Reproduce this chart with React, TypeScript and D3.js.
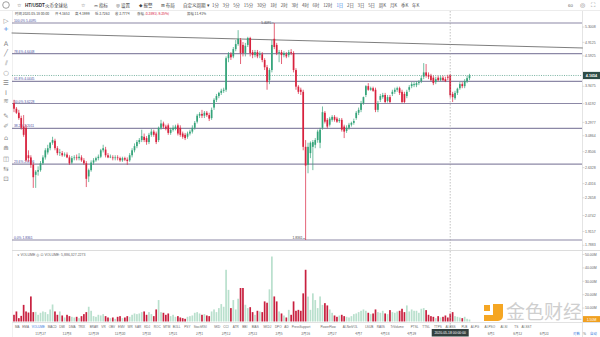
import React from 'react';
import * as d3 from 'd3';

// ---------- data ----------
const startDate = '2019-11-16';
// [open, high, low, close]
const ohlc: [number, number, number, number][] = [
  [3.63,3.69,3.47,3.53],[3.53,3.56,3.44,3.46],[3.46,3.51,3.34,3.37],[3.37,3.41,3.18,3.21],[3.23,3.42,3.07,3.10],
  [3.21,3.26,2.71,2.73],[2.80,2.87,2.71,2.76],[2.77,2.80,2.63,2.67],[2.67,2.70,2.38,2.51],[2.54,2.60,2.38,2.58],
  [2.58,2.65,2.53,2.60],[2.60,2.72,2.58,2.69],[2.69,2.80,2.67,2.77],[2.77,2.90,2.74,2.87],[2.84,2.95,2.81,2.90],
  [2.90,2.99,2.87,2.98],[2.98,3.07,2.95,3.02],[3.01,3.04,2.87,2.90],[2.90,2.93,2.80,2.83],[2.83,2.89,2.79,2.84],
  [2.83,2.86,2.78,2.80],[2.80,2.84,2.78,2.81],[2.81,2.84,2.76,2.77],[2.77,2.80,2.67,2.69],[2.70,2.79,2.68,2.76],
  [2.76,2.80,2.73,2.77],[2.77,2.81,2.73,2.76],[2.76,2.83,2.73,2.78],[2.77,2.80,2.71,2.73],[2.73,2.76,2.67,2.69],
  [2.69,2.72,2.39,2.49],[2.52,2.62,2.45,2.60],[2.60,2.73,2.58,2.70],[2.70,2.76,2.67,2.73],[2.73,2.78,2.71,2.76],
  [2.76,2.81,2.73,2.78],[2.78,2.89,2.76,2.87],[2.87,2.95,2.84,2.90],[2.88,2.92,2.77,2.80],[2.80,2.83,2.76,2.77],
  [2.77,2.81,2.76,2.78],[2.77,2.80,2.73,2.76],[2.76,2.80,2.73,2.77],[2.77,2.80,2.73,2.76],[2.76,2.78,2.71,2.73],
  [2.73,2.78,2.71,2.76],[2.76,2.78,2.72,2.74],[2.74,2.77,2.67,2.72],[2.73,2.83,2.71,2.80],[2.80,2.90,2.77,2.87],
  [2.87,2.97,2.84,2.93],[2.93,3.02,2.90,2.99],[2.99,3.05,2.96,3.02],[3.02,3.18,2.99,3.08],[3.07,3.12,2.99,3.02],
  [3.05,3.08,2.95,2.99],[2.99,3.13,2.96,3.10],[3.10,3.19,3.07,3.15],[3.15,3.18,3.07,3.10],[3.12,3.15,2.96,2.99],
  [3.02,3.23,2.99,3.21],[3.21,3.34,3.18,3.28],[3.28,3.31,3.20,3.23],[3.23,3.26,3.17,3.20],[3.25,3.28,3.10,3.13],
  [3.13,3.21,3.10,3.18],[3.18,3.25,3.15,3.21],[3.20,3.26,3.17,3.23],[3.25,3.28,3.09,3.12],[3.21,3.25,3.07,3.10],
  [3.12,3.15,3.04,3.07],[3.10,3.13,3.02,3.05],[3.07,3.15,3.04,3.12],[3.12,3.18,3.09,3.15],[3.15,3.25,3.12,3.21],
  [3.21,3.32,3.18,3.29],[3.31,3.44,3.28,3.41],[3.41,3.47,3.37,3.44],[3.44,3.51,3.37,3.41],[3.41,3.49,3.37,3.46],
  [3.46,3.49,3.39,3.42],[3.42,3.46,3.32,3.36],[3.37,3.55,3.34,3.51],[3.55,3.72,3.51,3.69],[3.69,3.80,3.65,3.76],
  [3.76,3.84,3.72,3.82],[3.82,3.90,3.78,3.86],[3.86,3.92,3.82,3.88],[3.88,4.58,3.84,4.54],[4.54,4.68,4.45,4.63],
  [4.63,4.68,4.50,4.56],[4.58,4.80,4.54,4.75],[4.75,4.97,4.70,4.87],[4.87,5.22,4.83,5.00],[4.97,5.02,4.41,4.66],
  [4.85,4.92,4.58,4.66],[4.66,4.90,4.58,4.83],[4.85,5.05,4.80,5.02],[5.02,5.05,4.58,4.66],[4.68,4.73,4.54,4.61],
  [4.61,4.73,4.56,4.68],[4.68,4.73,4.54,4.58],[4.61,4.70,4.54,4.63],[4.63,4.68,4.45,4.50],[4.50,4.54,4.28,4.34],
  [4.34,4.39,3.88,4.03],[4.07,4.32,3.99,4.28],[4.28,4.97,4.23,4.85],[5.00,5.4095,4.75,4.80],[4.85,4.90,4.61,4.66],
  [4.66,4.73,4.45,4.68],[4.68,4.73,4.41,4.61],[4.61,4.70,4.56,4.66],[4.63,4.68,4.54,4.58],[4.61,4.73,4.56,4.68],
  [4.68,4.75,4.61,4.66],[4.66,4.70,4.23,4.28],[4.28,4.32,3.88,3.94],[3.94,3.97,3.80,3.84],[3.88,3.92,3.78,3.84],
  [3.84,3.88,2.87,2.92],[2.92,3.02,1.8361,2.66],[2.67,2.98,2.56,2.92],[2.83,3.00,2.76,2.98],[2.92,3.02,2.60,2.99],
  [2.95,3.05,2.90,3.02],[3.02,3.18,2.98,3.15],[2.98,3.21,2.90,3.18],[3.21,3.57,3.18,3.47],[3.46,3.49,3.28,3.31],
  [3.34,3.37,3.20,3.23],[3.26,3.39,3.23,3.36],[3.34,3.42,3.31,3.39],[3.39,3.42,3.31,3.34],[3.36,3.39,3.29,3.31],
  [3.32,3.37,3.29,3.34],[3.34,3.37,3.15,3.18],[3.23,3.26,3.05,3.15],[3.16,3.25,3.13,3.21],[3.21,3.29,3.18,3.26],
  [3.26,3.31,3.23,3.29],[3.29,3.36,3.26,3.32],[3.37,3.49,3.34,3.46],[3.46,3.55,3.42,3.51],[3.51,3.67,3.47,3.63],
  [3.63,3.75,3.60,3.74],[3.78,3.97,3.74,3.95],[3.95,4.01,3.86,3.88],[3.88,3.94,3.86,3.91],[3.91,3.94,3.84,3.86],
  [3.88,3.92,3.47,3.51],[3.51,3.67,3.47,3.63],[3.69,3.80,3.65,3.76],[3.74,3.82,3.71,3.78],[3.78,3.82,3.63,3.65],
  [3.67,3.78,3.64,3.74],[3.74,3.78,3.63,3.65],[3.80,3.88,3.76,3.84],[3.84,3.92,3.80,3.88],[3.88,3.94,3.84,3.91],
  [3.91,3.94,3.78,3.82],[3.84,3.88,3.63,3.65],[3.80,3.84,3.63,3.65],[3.76,3.88,3.72,3.84],[3.88,3.97,3.84,3.93],
  [3.95,4.03,3.91,3.99],[3.97,4.03,3.93,3.99],[3.97,4.05,3.93,4.01],[4.01,4.07,3.97,4.03],[4.05,4.16,4.01,4.11],
  [4.14,4.43,4.09,4.23],[4.23,4.41,4.12,4.16],[4.18,4.23,4.09,4.14],[4.16,4.20,4.05,4.07],[4.12,4.16,3.97,4.01],
  [4.03,4.14,3.99,4.09],[4.12,4.16,4.05,4.07],[4.07,4.16,4.05,4.12],[4.12,4.16,4.05,4.07],[4.09,4.14,4.03,4.05],
  [4.14,4.18,4.07,4.12],[4.1653,4.1999,3.7263,3.7774],[3.80,3.84,3.65,3.74],[3.72,3.86,3.69,3.82],[3.82,3.92,3.78,3.90],
  [3.91,4.03,3.88,3.99],[3.99,4.03,3.91,3.95],[3.95,4.09,3.91,4.05],[4.05,4.16,4.01,4.11],[4.11,4.20,4.07,4.1654],
];

// volume, millions
const volumes: number[] = [
  5.0,7.5,2.5,4.2,12.4,7.5,6.7,18.7,7.0,7.2,
  5.0,6.5,7.5,7.0,5.5,9.0,12.7,7.5,5.0,7.5,
  4.5,3.0,5.0,4.0,3.5,3.0,3.5,2.5,4.0,5.5,
  7.0,11.0,8.0,4.0,3.5,5.0,4.5,5.5,4.0,3.0,
  2.5,3.0,2.0,3.5,4.0,2.5,3.0,4.0,3.5,5.0,
  6.0,5.5,6.0,7.0,7.5,5.0,7.0,5.5,4.0,9.0,
  16.0,7.0,6.5,5.0,6.0,4.0,5.0,3.5,4.0,3.0,
  2.5,2.0,3.5,4.0,4.5,6.5,7.0,6.0,5.0,5.5,
  4.5,4.0,7.5,9.0,7.0,10.0,13.0,11.0,38.6,23.6,
  10.0,16.0,9.0,17.0,25.0,25.0,12.5,10.0,10.7,7.0,
  5.0,8.0,7.5,7.0,15.0,14.0,24.0,48.5,18.7,15.0,
  7.5,6.0,4.5,3.0,8.7,5.0,15.0,8.0,8.7,8.0,
  21.0,38.6,18.6,8.7,21.0,16.0,10.0,18.7,12.4,13.7,
  12.0,9.0,6.5,4.5,3.5,4.5,5.0,4.0,3.5,3.0,
  4.0,5.5,6.0,7.0,8.0,9.0,8.0,6.5,5.5,6.0,
  9.0,7.0,6.5,8.0,6.0,5.5,8.5,7.0,6.5,7.5,
  8.0,9.5,7.0,12.0,7.5,9.0,8.0,8.0,6.5,9.5,
  10.0,8.5,5.0,4.0,3.5,2.5,4.0,3.0,3.5,4.5,
  3.0,5.89,7.0,4.0,3.5,3.0,2.5,3.5,2.0,1.5,
];

const fibHigh = 5.4095;
const fibLow = 1.8361;
const fibRatios = [1, 0.786, 0.618, 0.5, 0.382, 0.236, 0];
const priceTicks = [5.3008, 4.9125, 4.5925, 3.9475, 3.6192, 3.2977, 3.0864, 2.8506, 2.6328, 2.4316, 2.2658, 2.0742, 1.9157, 1.7883];
const volumeTicks = [10, 20, 30, 40, 50];
const dateTicks = ['2019-11-27','2019-12-08','2019-12-19','2019-12-30','2020-01-10','2020-01-21','2020-02-01','2020-02-12','2020-02-23','2020-03-05','2020-03-16','2020-03-27','2020-04-07','2020-04-18','2020-04-29','2020-05-21','2020-06-01','2020-06-12','2020-06-23'];
const trendPoints: [string, number][] = [['2019-11-15', 5.147], ['2020-07-09', 4.777]];
const crosshairIndex = 181;
const crosshairLabel = '2020-05-18 00:00:00';
const infoItems: [string, string][] = [
  ['时间', '2020-05-18 00:00'], ['开', '4.1653'], ['高', '4.1999'], ['低', '3.7263'], ['收', '3.7774'],
];
const changeText = '-0.3891(-9.35%)';
const ampText = '11.41%';
const periods = ['1分','3分','5分','15分','30分','1时','2时','3时','4时','6时','12时','1日','2日','3日','5日','周K','月K','季K','年K'];
const indicators = ['MA','EMA','VOLUME','MACD','DMI','DMA','TRIX','BRAR','VR','OBV','EMV','WR','SAR','KDJ','ROC','MTM','BOLL','PSY','StochRSI','SKD','CCI','ATR','BBI','BIAS','SKDJ','DPO','AD','PressSupport','PowerFlow','AI-NetVOL','LSUB','RAIIS','TrVolume','PTSL','TTSL','TTPS','AI-BSS','PLB','AI-PG','AI-PSO','AI-SI','TS','AI-SST'];
const leftIcons = ['▷','+','A','╱','⫽','○','☰','Ⅰ','≋','✎','✐','⌂','⋒','◫','⇆','⊡'];

// ---------- styles ----------
const UP = '#35a47a';
const DOWN = '#d8213d';
const VUP = '#b9e0cd';
const VDOWN = '#c8203f';
const FIB = '#8c88a6';
const FIBTXT = '#4d4fa0';
const CJK = "'Noto Sans CJK SC','Noto Sans',sans-serif";
const SANS = "'Liberation Sans','DejaVu Sans',sans-serif";
const SYM = "'DejaVu Sans',sans-serif";

export default function App() {
  const parse = d3.timeParse('%Y-%m-%d');
  const d0 = parse(startDate) as Date;
  const dates = ohlc.map((_, i) => d3.timeDay.offset(d0, i));
  const PL = 12, PR = 582;
  const x = d3.scaleTime().domain([dates[0], dates[dates.length - 1]]).range([14, 469.5]);
  const y = d3.scaleLog().domain([fibLow, fibHigh]).range([240, 23]);
  const yv = d3.scaleLinear().domain([0, 50]).range([321.5, 254.5]);
  const bw = 1.7;

  const last = ohlc[ohlc.length - 1][3];
  const lastVol = volumes[volumes.length - 1];
  const hiIdx = d3.maxIndex(ohlc, (d) => d[1]);
  const loIdx = d3.minIndex(ohlc, (d) => d[2]);
  const cx = x(dates[crosshairIndex]);

  // toolbar periods layout
  let px = 212;
  const periodPos = periods.map((p) => {
    const w = Array.from(p).reduce((s, c) => s + (/[0-9]/.test(c) ? 2.6 : /[A-Z]/.test(c) ? 3.1 : 4.6), 0);
    const pos = px;
    px += w + 3.4;
    return pos;
  });
  // indicator row layout
  let ix = 15;
  const indPos = indicators.map((n) => {
    const pos = ix;
    ix += n.length * 2.15 + 3;
    return pos;
  });

  const fmtDate = d3.timeFormat('%-m月%-d');
  const tp = trendPoints.map(([d, v]) => [x(parse(d) as Date), y(v)]);

  return (
    <svg width={600} height={337} viewBox="0 0 600 337" style={{ position: 'absolute', left: 0, top: 0, background: '#fff' }}>
      <rect x={0} y={0} width={600} height={337} fill="#fff" />

      {/* top toolbar */}
      <line x1={0} x2={600} y1={10.5} y2={10.5} stroke="#ececec" />
      <circle cx={6} cy={5} r={3.3} fill="none" stroke="#888" strokeWidth={0.8} />
      <text x={17} y={7} fontSize={5} fill="#555" fontFamily={SYM}>☆</text>
      <text x={25} y={6.8} fontSize={4.6} fill="#333" fontFamily={SANS} fontWeight="bold">HT/USDT</text>
      <text x={45} y={6.8} fontSize={4.5} fill="#333" fontFamily={CJK}>火币全球站</text>
      <text x={81} y={7} fontSize={5} fill="#666" fontFamily={SYM}>☆</text>
      <text x={94} y={6.8} fontSize={4.5} fill="#444" fontFamily={CJK}><tspan fontFamily={SYM}>⫘</tspan> 指标</text>
      <text x={116} y={6.8} fontSize={4.5} fill="#444" fontFamily={CJK}><tspan fontFamily={SYM}>◎</tspan> 设置</text>
      <text x={139} y={6.8} fontSize={4.5} fill="#444" fontFamily={CJK}><tspan fontFamily={SYM}>◆</tspan> 报警</text>
      <text x={161} y={6.8} fontSize={4.5} fill="#444" fontFamily={CJK}><tspan fontFamily={SYM}>⊞</tspan> 布局</text>
      <text x={183} y={6.8} fontSize={4.5} fill="#444" fontFamily={CJK}>自定义周期 ▾</text>
      {periods.map((p, i) => (
        <text key={p} x={periodPos[i]} y={6.8} fontSize={4.4} fontFamily={CJK} fill={p === '1日' ? '#3b7ddd' : '#555'}>{p}</text>
      ))}
      <text x={568} y={6.8} fontSize={4.4} fill="#666" fontFamily={SANS}>60</text>
      <text x={580} y={7.2} fontSize={6} fill="#777" fontFamily={SYM}>◎</text>
      <text x={591} y={7.2} fontSize={6} fill="#777" fontFamily={SYM}>⛶</text>

      {/* info row */}
      {(() => {
        let ox = 15;
        const out: React.ReactNode[] = [];
        infoItems.forEach(([k, v], i) => {
          out.push(
            <text key={k} x={ox} y={15.2} fontSize={3.4} fill="#444" fontFamily={CJK}>{k} {v}</text>
          );
          ox += (i === 0 ? 40 : 20);
        });
        out.push(<text key="chg" x={ox + 2} y={15.2} fontSize={3.4} fill="#444" fontFamily={CJK}>涨幅 <tspan fill={DOWN}>{changeText}</tspan></text>);
        out.push(<text key="amp" x={ox + 52} y={15.2} fontSize={3.4} fill="#444" fontFamily={CJK}>振幅 {ampText}</text>);
        return out;
      })()}

      {/* left toolbar */}
      <line x1={12.5} x2={12.5} y1={11} y2={337} stroke="#f0f0f0" />
      {leftIcons.map((ic, i) => (
        <text key={i} x={6} y={[20, 28, 43, 52, 62, 72, 82, 92, 100, 115, 125, 137, 147, 158, 168, 178][i] + 2.5}
          fontSize={6.5} textAnchor="middle" fill={ic === '+' ? '#3b7ddd' : '#888'} fontFamily={SYM}>{ic}</text>
      ))}

      {/* right axis line */}
      <line x1={PR + 0.5} x2={PR + 0.5} y1={11} y2={337} stroke="#e4e4e4" />

      {/* fib levels */}
      {fibRatios.map((r) => {
        const v = fibLow + (fibHigh - fibLow) * r;
        const yy = y(v);
        return (
          <g key={r}>
            <line x1={PL} x2={PR} y1={yy} y2={yy} stroke={FIB} strokeWidth={1.1} />
            <text x={14} y={yy - 1} fontSize={3.3} fill={FIBTXT} fontFamily={SANS}>{`${(r * 100).toFixed(1)}% ${v.toFixed(4)}`}</text>
          </g>
        );
      })}

      {/* trend line */}
      <line x1={tp[0][0]} y1={tp[0][1]} x2={tp[1][0]} y2={tp[1][1]} stroke="#6f6f6f" strokeWidth={0.9} />

      {/* current price dotted */}
      <line x1={PL} x2={PR} y1={y(last)} y2={y(last)} stroke="#58a08a" strokeWidth={0.8} strokeDasharray="1,1.3" />

      {/* candles */}
      {ohlc.map((d, i) => {
        const [o, h, l, c] = d;
        const xx = x(dates[i]);
        const col = c >= o ? UP : DOWN;
        const top = y(Math.max(o, c));
        const bh = Math.max(0.7, Math.abs(y(o) - y(c)));
        return (
          <g key={i}>
            <line x1={xx} x2={xx} y1={y(h)} y2={y(l)} stroke={col} strokeWidth={0.7} />
            <rect x={xx - bw / 2} y={top} width={bw} height={bh} fill={col} />
          </g>
        );
      })}

      {/* high / low markers */}
      <text x={x(dates[hiIdx]) - 3} y={y(ohlc[hiIdx][1]) + 1.2} fontSize={3.3} textAnchor="end" fill="#444" fontFamily={SANS}>{ohlc[hiIdx][1].toFixed(4)}</text>
      <line x1={x(dates[hiIdx]) - 2.5} x2={x(dates[hiIdx]) - 0.5} y1={y(ohlc[hiIdx][1])} y2={y(ohlc[hiIdx][1])} stroke="#666" strokeWidth={0.5} />
      <text x={x(dates[loIdx]) - 3} y={y(ohlc[loIdx][2]) - 0.6} fontSize={3.3} textAnchor="end" fill="#444" fontFamily={SANS}>{ohlc[loIdx][2].toFixed(4)}</text>
      <line x1={x(dates[loIdx]) - 2.5} x2={x(dates[loIdx]) - 0.5} y1={y(ohlc[loIdx][2]) - 1.5} y2={y(ohlc[loIdx][2]) - 1.5} stroke="#666" strokeWidth={0.5} />

      {/* price axis labels */}
      {priceTicks.map((t) => (
        <g key={t}>
          <line x1={PR + 0.5} x2={PR + 2.5} y1={y(t)} y2={y(t)} stroke="#bbb" strokeWidth={0.5} />
          <text x={585} y={y(t) + 1.2} fontSize={3.5} fill="#666" fontFamily={SANS}>{t.toFixed(4)}</text>
        </g>
      ))}
      <rect x={583} y={y(last) - 3.6} width={17} height={7.2} fill="#2f4d48" />
      <text x={591.5} y={y(last) + 1.3} fontSize={3.7} textAnchor="middle" fill="#fff" fontWeight="bold" fontFamily={SANS}>{last.toFixed(4)}</text>

      {/* volume pane */}
      <line x1={PL} x2={600} y1={250.5} y2={250.5} stroke="#dcdcdc" />
      <text x={17} y={256} fontSize={3.5} fill="#666" fontFamily={SANS}>∨  VOLUME  <tspan fontFamily={SYM}>◎ ⊡</tspan>   VOLUME: 5,886,327.2273</text>
      {volumes.map((v, i) => {
        const [o, , , c] = ohlc[i];
        const xx = x(dates[i]);
        return <rect key={i} x={xx - bw / 2} y={yv(v)} width={bw} height={yv(0) - yv(v)} fill={c >= o ? VUP : VDOWN} />;
      })}
      {volumeTicks.map((t) => (
        <g key={t}>
          <line x1={PR + 0.5} x2={PR + 2.5} y1={yv(t)} y2={yv(t)} stroke="#bbb" strokeWidth={0.5} />
          <text x={585} y={yv(t) + 1.2} fontSize={3.5} fill="#666" fontFamily={SANS}>{`${t.toFixed(2)}M`}</text>
        </g>
      ))}

      {/* watermark logo */}
      <g>
        <rect x={484} y={305} width={6} height={6} fill="#f5a623" />
        <path d="M493,304 h10 v12 a5,5 0 0 1 -5,5 h-14 v-6 h9 z" fill="#f5a623" />
        <text x={506} y={318.5} fontSize={19} fill="#cfcfcf" fontFamily={CJK}>金色财经</text>
      </g>
      <rect x={583} y={yv(lastVol) - 3.4} width={17} height={6.8} fill="#f0a020" />
      <text x={591.5} y={yv(lastVol) + 1.2} fontSize={3.5} textAnchor="middle" fill="#fff" fontFamily={SANS}>{`${lastVol.toFixed(2)}M`}</text>

      {/* crosshair */}
      <line x1={cx} x2={cx} y1={11} y2={328} stroke="#9a9a9a" strokeWidth={0.6} strokeDasharray="1.5,1.5" />

      {/* bottom rows */}
      <line x1={PL} x2={600} y1={322.5} y2={322.5} stroke="#e2e2e2" />
      {indicators.map((n, i) => (
        <text key={n} x={indPos[i]} y={327.6} fontSize={3.1} fill={n === 'VOLUME' ? '#3b7ddd' : '#666'} fontFamily={SANS}>{n}</text>
      ))}
      {dateTicks.map((s) => {
        const d = parse(s) as Date;
        const xx = x(d);
        if (Math.abs(xx - cx) < 22) return null;
        return <text key={s} x={xx} y={334.5} fontSize={3.3} textAnchor="middle" fill="#666" fontFamily={CJK}>{fmtDate(d)}</text>;
      })}
      <rect x={cx - 18.5} y={329} width={37} height={7.5} fill="#33403f" />
      <text x={cx} y={334.2} fontSize={3.4} textAnchor="middle" fill="#fff" fontFamily={SANS}>{crosshairLabel}</text>
      <text x={573} y={334.5} fontSize={3.4} fill="#3b7ddd" fontFamily={CJK}>对数</text>
      <text x={583} y={334.5} fontSize={3.4} fill="#666" fontFamily={SANS}>%</text>
      <text x={590} y={334.5} fontSize={3.4} fill="#3b7ddd" fontFamily={CJK}>自动</text>
    </svg>
  );
}
